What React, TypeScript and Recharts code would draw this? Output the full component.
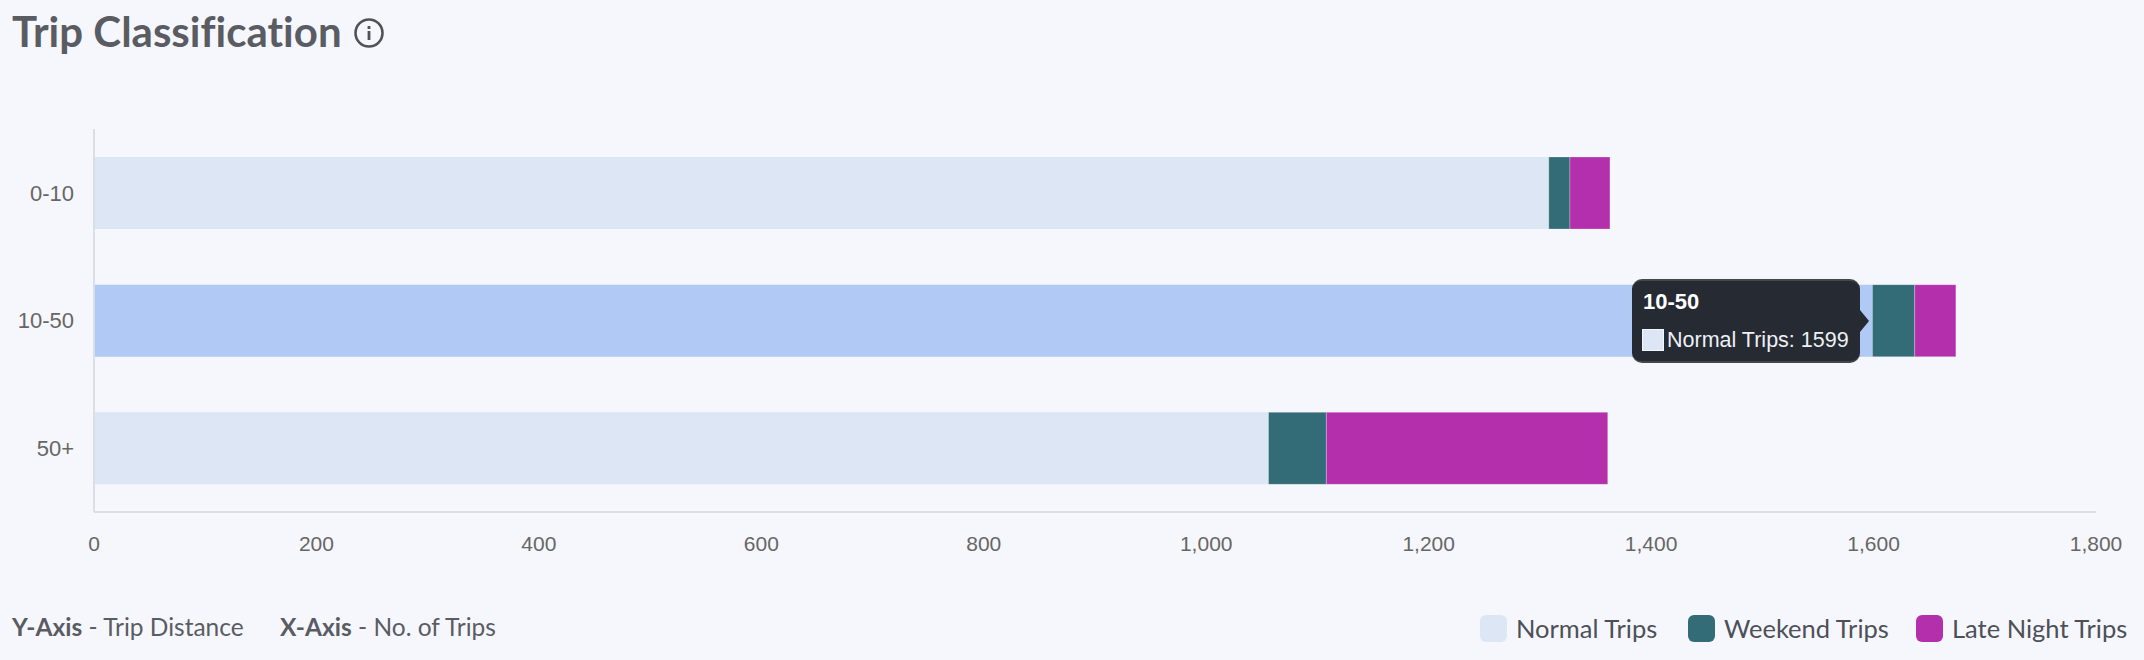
import { BarChart, Bar, XAxis, YAxis, Tooltip, Legend, Cell } from "recharts";

const categories = ["0-10", "10-50", "50+"];
const normalTrips = [1308, 1599, 1056];
const weekendTrips = [19, 38, 52];
const lateNightTrips = [36, 37, 253];
const xTicks = [0, 200, 400, 600, 800, 1000, 1200, 1400, 1600, 1800];

const COLORS = {
  bg: "#f6f7fc",
  normal: "#dde6f5",
  normalHover: "#b0c9f5",
  weekend: "#336b76",
  late: "#b32fab",
  axis: "#dcdee5",
  tick: "#666666",
  text: "#5a5c63",
};

const chartData = categories.map((name, i) => ({
  name,
  normal: normalTrips[i],
  weekend: weekendTrips[i],
  late: lateNightTrips[i],
}));

const HOVERED = 1;
const SANS = "Lato, 'Noto Sans', sans-serif";
const HELV = "'Liberation Sans', Arial, sans-serif";

function TripTooltip({ payload, label }: any) {
  const item = payload && payload[0];
  if (!item) return null;
  return (
    <div style={{ position: "relative", width: 228, height: 84, boxSizing: "border-box", background: "#252a33", borderRadius: 10, borderTop: "2px solid #45474b", borderBottom: "2px solid #45474b", fontFamily: HELV, color: "#fff" }}>
      <div style={{ position: "absolute", left: 11, top: 9, fontSize: 22, fontWeight: 700, lineHeight: "24px" }}>{label}</div>
      <div style={{ position: "absolute", left: 10, top: 48, width: 22, height: 22, boxSizing: "border-box", background: COLORS.normal, border: "1px solid #f4f6fb" }} />
      <div style={{ position: "absolute", left: 35, top: 47, fontSize: 21.5, lineHeight: "24px", whiteSpace: "nowrap", color: "#eef0f4" }}>{item.name}: {item.value}</div>
      <div style={{ position: "absolute", left: 228, top: 29, width: 0, height: 0, borderTop: "11px solid transparent", borderBottom: "11px solid transparent", borderLeft: "9px solid #252a33" }} />
    </div>
  );
}

function TripLegend({ payload }: any) {
  const lefts = [1480, 1688, 1916];
  return (
    <div style={{ position: "relative", width: 2144, height: 40 }}>
      {(payload || []).map((entry: any, i: number) => (
        <div key={entry.value} style={{ position: "absolute", left: lefts[i], top: 0, display: "flex", alignItems: "center", whiteSpace: "nowrap" }}>
          <span style={{ width: 27, height: 27, borderRadius: 6, background: entry.color, marginRight: 9 }} />
          <span style={{ fontFamily: SANS, fontSize: 25.5, color: "#4d5058", lineHeight: "27px" }}>{entry.value}</span>
        </div>
      ))}
    </div>
  );
}

export default function App() {
  return (
    <div style={{ position: "absolute", left: 0, top: 0, width: 2144, height: 660, background: COLORS.bg, overflow: "hidden" }}>
      {/* Title */}
      <div style={{ position: "absolute", left: 12, top: 6, fontFamily: SANS, fontSize: 42, fontWeight: 700, color: COLORS.text, lineHeight: "50px", whiteSpace: "nowrap", fontVariantLigatures: "none" }}>
        Trip Classification
      </div>
      <svg width={32} height={32} style={{ position: "absolute", left: 353, top: 17 }}>
        <circle cx={16} cy={16} r={13.5} fill="none" stroke="#505257" strokeWidth={2.6} />
        <rect x={14.6} y={14} width={2.8} height={9} fill="#505257" />
        <rect x={14.6} y={9} width={2.8} height={3} fill="#505257" />
      </svg>

      <BarChart width={2144} height={660} data={chartData} layout="vertical" margin={{ top: 129, right: 48, bottom: 0, left: 0 }} barCategoryGap={0}>
        <XAxis
          type="number"
          domain={[0, 1800]}
          ticks={xTicks}
          height={108}
          tickLine={false}
          interval={0}
          tickMargin={18}
          axisLine={{ stroke: COLORS.axis, strokeWidth: 2 }}
          tick={{ fill: COLORS.tick, fontSize: 21, fontFamily: HELV }}
          tickFormatter={(v: number) => v.toLocaleString("en-US")}
        />
        <YAxis
          type="category"
          dataKey="name"
          width={94}
          tickLine={false}
          tickMargin={14}
          axisLine={{ stroke: COLORS.axis, strokeWidth: 2 }}
          tick={{ fill: COLORS.tick, fontSize: 22, fontFamily: HELV }}
        />
        <Tooltip
          active
          defaultIndex={HOVERED}
          cursor={false}
          isAnimationActive={false}
          position={{ x: 1632, y: 279 }}
          allowEscapeViewBox={{ x: true, y: true }}
          wrapperStyle={{ outline: "none", zIndex: 5 }}
          content={<TripTooltip />}
        />
        <Legend itemSorter={null} content={<TripLegend />} wrapperStyle={{ position: "absolute", left: 0, top: 615, width: 2144 }} />
        <Bar dataKey="normal" name="Normal Trips" stackId="a" barSize={72} fill={COLORS.normal} isAnimationActive={false}>
          {chartData.map((d, i) => (
            <Cell key={d.name} fill={i === HOVERED ? COLORS.normalHover : COLORS.normal} />
          ))}
        </Bar>
        <Bar dataKey="weekend" name="Weekend Trips" stackId="a" barSize={72} fill={COLORS.weekend} stroke="#ffffff" strokeOpacity={0.25} isAnimationActive={false} />
        <Bar dataKey="late" name="Late Night Trips" stackId="a" barSize={72} fill={COLORS.late} stroke="#ffffff" strokeOpacity={0.25} isAnimationActive={false} />
      </BarChart>

      {/* Axis captions */}
      <div style={{ position: "absolute", left: 12, top: 612, fontFamily: SANS, fontSize: 24.5, color: COLORS.text, lineHeight: "30px", whiteSpace: "nowrap" }}>
        <b>Y-Axis</b> - Trip Distance
      </div>
      <div style={{ position: "absolute", left: 280, top: 612, fontFamily: SANS, fontSize: 24.5, color: COLORS.text, lineHeight: "30px", whiteSpace: "nowrap" }}>
        <b>X-Axis</b> - No. of Trips
      </div>
    </div>
  );
}
